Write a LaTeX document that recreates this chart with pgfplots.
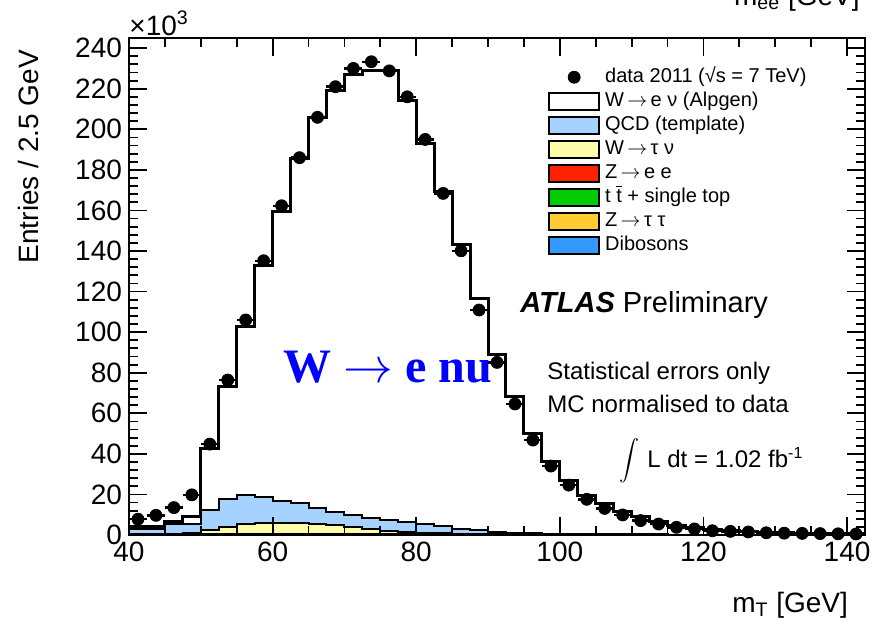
\documentclass[border=0pt]{standalone}
\usepackage{fontspec}
\setmainfont{Liberation Sans}
\newfontfamily\timesfont{Liberation Serif}
\usepackage{pgfplots}
\pgfplotsset{compat=1.18}
\usepackage{pgfplotstable}

\definecolor{qcdblue}{RGB}{166,210,255}
\definecolor{wtauyellow}{RGB}{255,255,170}
\definecolor{zeered}{RGB}{255,34,0}
\definecolor{topgreen}{RGB}{0,204,0}
\definecolor{zttorange}{RGB}{255,204,51}
\definecolor{dibblue}{RGB}{51,153,255}
\definecolor{labelblue}{RGB}{0,0,255}

% m_T bins (left edge, GeV); entries in units of 10^3; MC columns are stacked (cumulative)
\pgfplotstableread{
lo    data  mc    qcd   wtau  zee   top   ztt   dib
40.0  7.8   4.3   3.1   0.6   0.45  0.3   0.2   0.05
42.5  9.7   4.3   3.1   0.6   0.45  0.3   0.2   0.05
45.0  13.5  6.8   5.2   0.7   0.45  0.3   0.2   0.05
47.5  19.8  8.9   5.6   0.9   0.45  0.3   0.2   0.05
50.0  44.8  42.7  12.5  2.5   0.5   0.3   0.2   0.05
52.5  76.4  73.1  17.8  4.0   0.5   0.3   0.2   0.05
55.0  106.0 102.7 19.5  5.3   0.5   0.3   0.2   0.05
57.5  135.2 133.1 18.8  5.8   0.5   0.3   0.2   0.05
60.0  162.3 159.3 16.9  6.1   0.5   0.3   0.2   0.05
62.5  186.0 185.7 15.6  6.0   0.5   0.3   0.2   0.05
65.0  205.9 205.9 13.2  5.4   0.5   0.3   0.15  0.05
67.5  221.0 219.0 11.5  4.7   0.5   0.3   0.15  0.05
70.0  230.0 227.2 10.0  3.8   0.5   0.3   0.15  0.05
72.5  233.3 229.2 8.4   2.9   0.5   0.3   0.15  0.05
75.0  228.8 228.8 7.4   2.2   0.5   0.3   0.1   0.05
77.5  216.0 214.4 6.2   1.6   0.5   0.3   0.1   0.05
80.0  195.0 193.0 5.2   1.2   0.5   0.3   0.1   0.05
82.5  168.4 169.2 4.2   0.9   0.5   0.3   0.1   0.05
85.0  140.1 143.3 3.1   0.7   0.45  0.3   0.1   0.05
87.5  110.9 116.7 2.5   0.6   0.45  0.3   0.1   0.05
90.0  85.1  89.2  1.6   0.5   0.4   0.25  0.1   0.05
92.5  64.6  68.2  1.1   0.45  0.4   0.25  0.1   0.05
95.0  46.8  49.8  0.8   0.4   0.35  0.25  0.1   0.05
97.5  34.0  36.1  0.6   0.35  0.3   0.2   0.1   0.05
100.0 24.6  26.8  0.5   0.3   0.3   0.2   0.1   0.05
102.5 17.6  19.5  0.45  0.3   0.25  0.2   0.1   0.05
105.0 13.1  15.6  0.4   0.25  0.25  0.2   0.1   0.05
107.5 9.9   11.8  0.35  0.25  0.2   0.15  0.05  0.05
110.0 7.1   9.0   0.3   0.2   0.2   0.15  0.05  0.05
112.5 5.4   6.6   0.3   0.2   0.2   0.15  0.05  0.05
115.0 3.8   4.9   0.25  0.2   0.15  0.1   0.05  0.03
117.5 3.0   3.6   0.25  0.15  0.15  0.1   0.05  0.03
120.0 2.1   2.7   0.2   0.15  0.15  0.1   0.05  0.03
122.5 1.8   2.1   0.2   0.15  0.1   0.1   0.05  0.03
125.0 1.5   1.7   0.2   0.1   0.1   0.08  0.04  0.03
127.5 1.1   1.4   0.15  0.1   0.1   0.08  0.04  0.03
130.0 0.9   1.1   0.15  0.1   0.1   0.08  0.04  0.03
132.5 0.8   0.9   0.15  0.1   0.08  0.06  0.04  0.02
135.0 0.7   0.8   0.1   0.08  0.08  0.06  0.03  0.02
137.5 0.6   0.7   0.1   0.08  0.06  0.05  0.03  0.02
140.0 0.5   0.6   0.1   0.08  0.06  0.05  0.03  0.02
142.5 nan   0.6   0.1   0.08  0.06  0.05  0.03  0.02
}\mtdata

\newcommand{\arr}{\,$\rightarrow$\,}

\begin{document}
\begin{tikzpicture}
\useasboundingbox (-64.5pt,-44pt) rectangle (374.5pt,267.5pt);
\clip (-64.5pt,-44pt) rectangle (374.5pt,267.5pt);
\begin{axis}[
  at={(0pt,0pt)}, anchor=south west,
  scale only axis, width=368pt, height=248.5pt,
  xmin=40, xmax=142.5, ymin=0, ymax=245,
  xtick={40,60,...,140}, minor x tick num=3,
  ytick={0,20,...,240}, minor y tick num=4,
  tick align=inside,
  axis on top,
  axis line style={line width=1pt},
  every tick/.style={black, line width=0.9pt},
  major tick length=9pt, minor tick length=4.5pt,
  tick label style={font=\fontsize{14}{16}\selectfont},
  /pgf/number format/assume math mode=true,
  legend style={draw=none, fill=none, at={(0.569,0.946)}, anchor=north west,
    inner sep=0pt, font=\fontsize{10}{12}\selectfont,
    nodes={text height=7.2pt, text depth=2.3pt, inner ysep=1.25pt, inner xsep=2.5pt},
    row sep=0pt},
  legend cell align=left,
]
\addlegendimage{legend image code/.code={\fill[black] (12.5pt,0pt) circle (3pt);}}
\addlegendentry{data 2011 (√s = 7 TeV)}
\addlegendimage{legend image code/.code={\draw[line width=1pt, fill=white] (0pt,-4.25pt) rectangle (25pt,4.25pt);}}
\addlegendentry{W\arr e ν (Alpgen)}
\addlegendimage{legend image code/.code={\draw[line width=1pt, fill=qcdblue] (0pt,-4.25pt) rectangle (25pt,4.25pt);}}
\addlegendentry{QCD (template)}
\addlegendimage{legend image code/.code={\draw[line width=1pt, fill=wtauyellow] (0pt,-4.25pt) rectangle (25pt,4.25pt);}}
\addlegendentry{W\arr τ ν}
\addlegendimage{legend image code/.code={\draw[line width=1pt, fill=zeered] (0pt,-4.25pt) rectangle (25pt,4.25pt);}}
\addlegendentry{Z\arr e e}
\addlegendimage{legend image code/.code={\draw[line width=1pt, fill=topgreen] (0pt,-4.25pt) rectangle (25pt,4.25pt);}}
\addlegendentry{t $\overline{\mbox{t}}$ + single top}
\addlegendimage{legend image code/.code={\draw[line width=1pt, fill=zttorange] (0pt,-4.25pt) rectangle (25pt,4.25pt);}}
\addlegendentry{Z\arr τ τ}
\addlegendimage{legend image code/.code={\draw[line width=1pt, fill=dibblue] (0pt,-4.25pt) rectangle (25pt,4.25pt);}}
\addlegendentry{Dibosons}

% stacked MC, drawn from the top of the stack down
\addplot[const plot, fill=white, draw=black, line width=1.5pt, forget plot] table[x=lo, y=mc] {\mtdata} \closedcycle;
\addplot[const plot, fill=qcdblue, draw=black, line width=1pt, forget plot] table[x=lo, y=qcd] {\mtdata} \closedcycle;
\addplot[const plot, fill=wtauyellow, draw=black, line width=1pt, forget plot] table[x=lo, y=wtau] {\mtdata} \closedcycle;
\addplot[const plot, fill=zeered, draw=black, line width=1pt, forget plot] table[x=lo, y=zee] {\mtdata} \closedcycle;
\addplot[const plot, fill=topgreen, draw=black, line width=1pt, forget plot] table[x=lo, y=top] {\mtdata} \closedcycle;
\addplot[const plot, fill=zttorange, draw=black, line width=1pt, forget plot] table[x=lo, y=ztt] {\mtdata} \closedcycle;
\addplot[const plot, fill=dibblue, draw=black, line width=1pt, forget plot] table[x=lo, y=dib] {\mtdata} \closedcycle;

% data
\addplot[only marks, mark=*, mark size=3pt, black, forget plot,
  error bars/.cd, x dir=both, x fixed=1.25, error mark=none,
  error bar style={line width=1.2pt}]
  table[x expr=\thisrow{lo}+1.25, y=data] {\mtdata};
\end{axis}

\node[anchor=east, rotate=90, font=\fontsize{14}{16}\selectfont] at (-50.5pt,246pt) {Entries / 2.5 GeV};
\node[anchor=east, font=\fontsize{14}{16}\selectfont] at (363pt,-35pt) {m\textsubscript{T} [GeV]};
\node[anchor=base west, inner sep=0pt, font=\fontsize{14}{16}\selectfont] at (0pt,250pt) {×10\textsuperscript{3}};
\node[anchor=base east, inner sep=0pt, font=\fontsize{14}{16}\selectfont] at (365.5pt,265pt) {m\textsubscript{ee} [GeV]};
\node[anchor=west, inner sep=0pt, font=\fontsize{14.5}{17}\selectfont] at (195.5pt,115pt) {\textbf{\textit{ATLAS}} Preliminary};
\node[anchor=west, inner sep=0pt, font=\fontsize{12}{14}\selectfont] at (209pt,81pt) {Statistical errors only};
\node[anchor=west, inner sep=0pt, font=\fontsize{12}{14}\selectfont] at (209pt,65.5pt) {MC normalised to data};
\node[anchor=west, inner sep=0pt, font=\fontsize{12}{14}\selectfont] at (245pt,37pt) {$\displaystyle\int$\hspace{4pt}L dt = 1.02 fb\textsuperscript{-1}};
\node[anchor=west, inner sep=0pt, text=labelblue, font=\timesfont\bfseries\fontsize{24}{28}\selectfont] at (77pt,84pt) {W $\rightarrow$ e nu};
\end{tikzpicture}
\end{document}
